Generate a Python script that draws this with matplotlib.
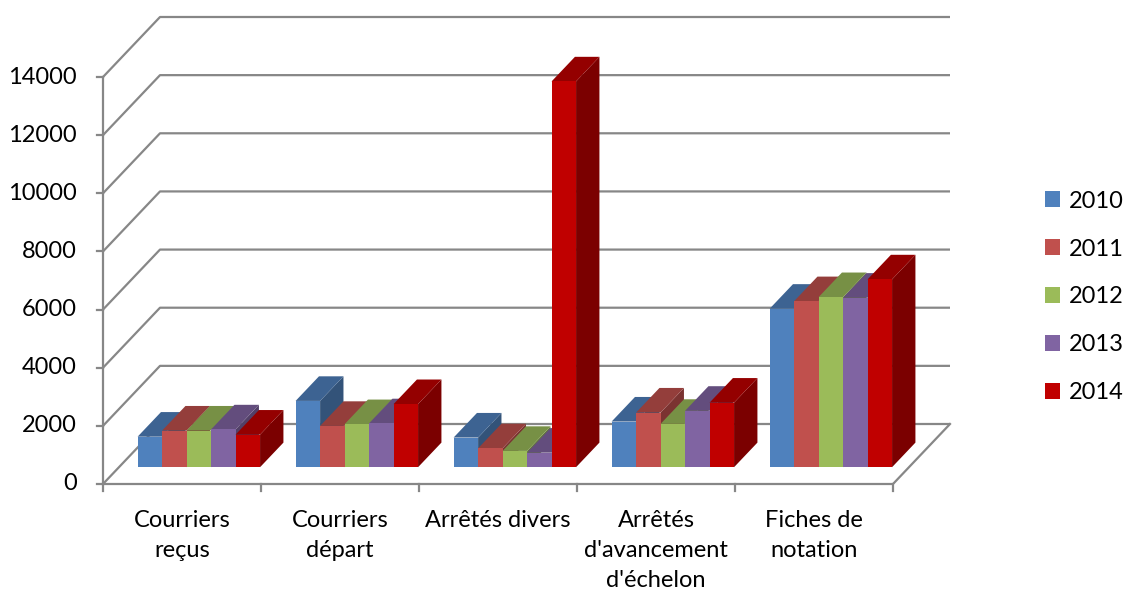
import numpy as np
import matplotlib.pyplot as plt
from matplotlib.patches import Polygon, Patch
from matplotlib.colors import to_rgb

plt.rcParams['font.family'] = ['Lato', 'DejaVu Sans']

categories = ['Courriers\nreçus', 'Courriers\ndépart', 'Arrêtés divers',
              "Arrêtés\nd'avancement\nd'échelon", 'Fiches de\nnotation']
years = ['2010', '2011', '2012', '2013', '2014']
v2010 = [1050, 2280, 1020, 1570, 5450]
v2011 = [1260, 1420, 650, 1880, 5710]
v2012 = [1260, 1480, 560, 1490, 5850]
v2013 = [1300, 1510, 500, 1940, 5830]
v2014 = [1120, 2170, 13270, 2220, 6460]
series = [v2010, v2011, v2012, v2013, v2014]
colors = ['#4F81BD', '#C0504D', '#9BBB59', '#8064A2', '#C00000']
yticks = np.arange(0, 14001, 2000)

fig = plt.figure(figsize=(11.24, 5.94), dpi=100)
ax = fig.add_axes([103 / 1124, 110 / 594, 790 / 1124, 407 / 594])
ax.set_xlim(0, 5)
ax.set_ylim(0, 14000)
ax.axis('off')

# oblique depth vector (full floor depth) in data units
DX = 57 / 158
DY = 60 * 14000 / 407
grid = '#878787'
lw = 1.6

# side wall + back wall gridlines
for v in yticks:
    ax.plot([0, DX, 5 + DX], [v, v + DY, v + DY], color=grid, lw=lw,
            clip_on=False, solid_capstyle='butt', zorder=1)
    ax.plot([-0.035, 0], [v, v], color=grid, lw=lw, clip_on=False, zorder=1)
    ax.text(-0.165, v, str(v), ha='right', va='center', fontsize=17)

# value axis, floor edges
ax.plot([0, 0], [0, 14000], color=grid, lw=lw, clip_on=False, zorder=1)
ax.plot([0, 5, 5 + DX], [0, 0, DY], color=grid, lw=lw, clip_on=False, zorder=1)
for i in range(6):
    ax.plot([i, i], [0, -250], color=grid, lw=lw, clip_on=False, zorder=1)

# bars
d0, d1 = 0.28, 0.69
group_w = 0.775
bw = group_w / len(series)
start = 0.118
for c in range(len(categories)):
    for s, vals in enumerate(series):
        h = vals[c]
        x0 = c + start + s * bw + d0 * DX
        x1 = x0 + bw
        y0 = d0 * DY
        dx = (d1 - d0) * DX
        dy = (d1 - d0) * DY
        base = np.array(to_rgb(colors[s]))
        side = Polygon([(x1, y0), (x1 + dx, y0 + dy), (x1 + dx, y0 + h + dy), (x1, y0 + h)],
                       closed=True, fc=base * 0.64, ec='none', clip_on=False, zorder=2)
        top = Polygon([(x0, y0 + h), (x1, y0 + h), (x1 + dx, y0 + h + dy), (x0 + dx, y0 + h + dy)],
                      closed=True, fc=base * 0.77, ec='none', clip_on=False, zorder=2)
        front = Polygon([(x0, y0), (x1, y0), (x1, y0 + h), (x0, y0 + h)],
                        closed=True, fc=base, ec='none', clip_on=False, zorder=2)
        ax.add_patch(side)
        ax.add_patch(top)
        ax.add_patch(front)

for c, name in enumerate(categories):
    ax.annotate(name, xy=(c + 0.5, 0), xytext=(0, -26), textcoords='offset pixels',
                ha='center', va='top', fontsize=17, linespacing=1.52)

handles = [Patch(fc=col, ec='none') for col in colors]
fig.legend(handles, years, loc='center left', bbox_to_anchor=(1045 / 1124, 1 - 297 / 594),
           frameon=False, fontsize=17, handlelength=0.65, handleheight=0.65,
           handletextpad=0.35, labelspacing=1.14, borderpad=0, borderaxespad=0)

fig.savefig('out.png', dpi=100)
